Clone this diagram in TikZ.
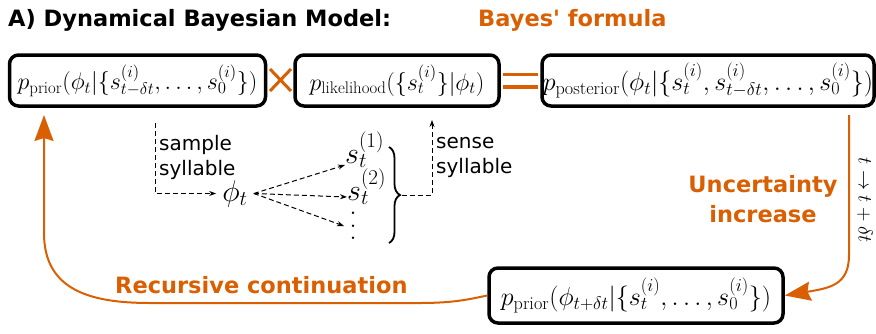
\RequirePackage{fix-cm}
\documentclass[tikz,border=0pt]{standalone}
\usepackage{fontspec}
\newfontfamily\dvsans{DejaVu Sans}
\usetikzlibrary{arrows.meta,decorations.pathreplacing,calc}
\definecolor{orng}{HTML}{D95F02}
\newcommand\mathsz{\fontsize{26}{31}\selectfont}
\newcommand\midsz{\fontsize{30}{36}\selectfont}
\begin{document}
\begin{tikzpicture}[x=1pt,y=-1pt,
  box/.style={draw,line width=3.5pt,rounded corners=9pt,inner sep=0pt,font=\mathsz},
  bold/.style={text=orng,font=\dvsans\bfseries\fontsize{22.5}{30}\selectfont,inner sep=0pt},
  lbl/.style={font=\dvsans\fontsize{20}{25}\selectfont,align=left,inner sep=0pt},
  dsh/.style={line width=1pt,dash pattern=on 5pt off 3pt,-{Stealth[length=7pt,width=5pt]}},
  oarrow/.style={orng,line width=2pt,-{Stealth[length=26pt,width=19pt,inset=3pt]}},
  opline/.style={orng,line width=3.5pt}]
\useasboundingbox (0,0) rectangle (876,333);
% title
\node[anchor=base west,inner sep=0pt,font=\dvsans\bfseries\fontsize{22.5}{27}\selectfont] (title) at (8,26) {A) Dynamical Bayesian Model:};
\node[bold,anchor=base west] (bayes) at (478,26) {Bayes' formula};
% boxes
\node[box,minimum width=256pt,minimum height=51pt,font=\fontsize{24}{29}\selectfont] (prior) at (137.5,80.5)
  {$p_{\mathrm{prior}}(\phi_t|\{s^{(i)}_{t-\delta t},\ldots,s^{(i)}_0\})$};
\node[box,minimum width=204pt,minimum height=51pt,font=\fontsize{24}{29}\selectfont] (lik) at (397,80.5)
  {$p_{\mathrm{likelihood}}(\{s^{(i)}_t\}|\phi_t)$};
\node[box,minimum width=332pt,minimum height=51pt] (post) at (708,80.5)
  {$p_{\mathrm{posterior}}(\phi_t|\{s^{(i)}_t,s^{(i)}_{t-\delta t},\ldots,s^{(i)}_0\})$};
\node[box,minimum width=294pt,minimum height=55pt] (next) at (636,295.5)
  {$p_{\mathrm{prior}}(\phi_{t+\delta t}|\{s^{(i)}_t,\ldots,s^{(i)}_0\})$};
% operators
\draw[orng,line width=3pt] (270,69) -- (291,91) (270,91) -- (291,69);
\draw[opline] (503,74.5) -- (538,74.5) (503,87) -- (538,87);
% middle part
\node[inner sep=6pt,font=\midsz,anchor=base] (phi) at (235,201) {$\phi_t$};
\node[inner sep=0pt,font=\midsz,anchor=base west] (s1) at (345,163) {$s_t^{(1)}$};
\node[inner sep=0pt,font=\midsz,anchor=base west] (s2) at (347,200) {$s_t^{(2)}$};
\node[inner sep=0pt,font=\midsz] (vd) at (353,226) {\vbox{\baselineskip12.5pt\lineskiplimit0pt\hbox{.}\hbox{.}\hbox{.}}};
\coordinate (sampletop) at (155,123);
\draw[dsh] (sampletop) |- (phi.west);
\draw[dsh] (phi.east) -- ([yshift=-2pt]s1.base west);
\draw[dsh] (phi.east) -- ([yshift=3pt]s2.base west);
\draw[dsh] (phi.east) -- ([xshift=-5pt]vd.west);
\node[lbl,anchor=west] (sample) at (159,157) {sample\\syllable};
\draw[line width=1.8pt,decorate,decoration={brace,amplitude=11pt}] (389,147) -- (389,243);
\coordinate (btip) at (402,195);
\coordinate (sensetop) at (432,120);
\draw[dsh] (btip) -| (sensetop);
\node[lbl,anchor=west] (sense) at (436,157) {sense\\syllable};
% uncertainty
\coordinate (ustart) at (849,115);
\draw[oarrow] (ustart) -- (849,255) .. controls (849,285) and (830,288) .. (next.east);
\node[bold,align=center] (unc) at (763,199) {Uncertainty\\increase};
\node[font=\fontsize{20}{24}\selectfont,rotate=-90,inner sep=0pt] (tlab) at (865,200) {$t\rightarrow t+\delta t$};
% recursion
\coordinate (rtip) at (44,115);
\draw[oarrow] (next.west) .. controls (470,299) and (455,303) .. (420,303) -- (150,303)
  .. controls (90,303) and (44,290) .. (44,233) -- (rtip);
\node[bold,anchor=base west] (rec) at (115,293) {Recursive continuation};
\end{tikzpicture}
\end{document}
